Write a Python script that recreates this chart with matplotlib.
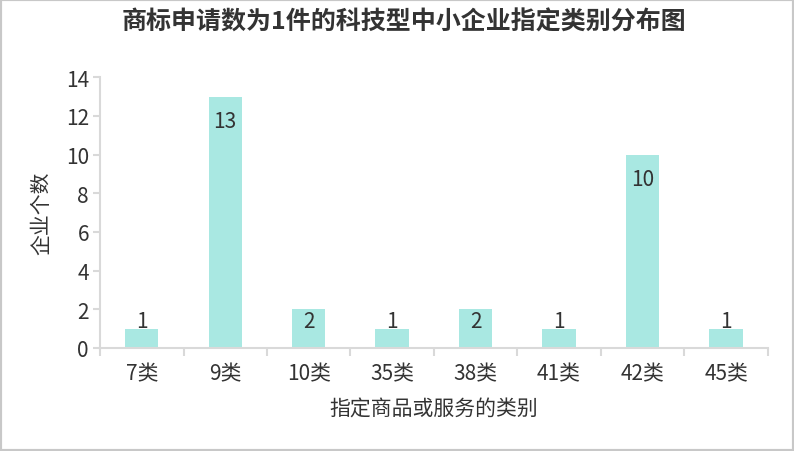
import matplotlib
matplotlib.use("Agg")
import matplotlib.pyplot as plt
import numpy as np

plt.rcParams['font.family'] = ['Noto Sans CJK SC', 'DejaVu Sans']

categories = ['7类', '9类', '10类', '35类', '38类', '41类', '42类', '45类']
counts = [1, 13, 2, 1, 2, 1, 10, 1]
title = '商标申请数为1件的科技型中小企业指定类别分布图'
xlabel = '指定商品或服务的类别'
ylabel = '企业个数'

bar_color = '#a9e8e2'
text_color = '#333333'
axis_color = '#d9d9d9'

fig = plt.figure(figsize=(7.94, 4.52), dpi=100)
ax = fig.add_axes([0.126, 0.228, 0.841, 0.599])

x = np.arange(len(categories))
ax.bar(x, counts, width=0.4, color=bar_color)

# value labels sit inside the bar top, but never lower than a floor
for xi, v in zip(x, counts):
    ypos = max(v - 1.24, 1.39)
    ax.text(xi, ypos, str(v), ha='center', va='center', fontsize=15, color=text_color)

ax.set_xlim(-0.5, len(categories) - 0.5)
ax.set_ylim(0, 14)
ax.set_yticks(range(0, 15, 2))
ax.set_xticks(x)
ax.set_xticklabels(categories)
ax.set_xticks(np.arange(-0.5, len(categories), 1), minor=True)
ax.tick_params(axis='x', which='major', length=0, pad=10, labelsize=15, labelcolor=text_color)
ax.tick_params(axis='x', which='minor', length=6, width=1.5, color=axis_color)
ax.tick_params(axis='y', length=5, width=1.5, color=axis_color, labelsize=15, labelcolor=text_color, pad=3)

for side in ['top', 'right']:
    ax.spines[side].set_visible(False)
for side in ['left', 'bottom']:
    ax.spines[side].set_color(axis_color)
    ax.spines[side].set_linewidth(1.5)

ax.set_xlabel(xlabel, fontsize=15, color=text_color, labelpad=10)
ax.set_ylabel(ylabel, fontsize=15, color=text_color, labelpad=10)

fig.text(0.509, 0.951, title, ha='center', va='center', fontsize=18, fontweight='bold', color=text_color)

# grey frame around the figure
fig.patches.append(plt.Rectangle((0, 0), 1, 1, transform=fig.transFigure, fill=False,
                                 edgecolor='#c8c8c8', linewidth=3))

fig.savefig('out.png', dpi=100)
